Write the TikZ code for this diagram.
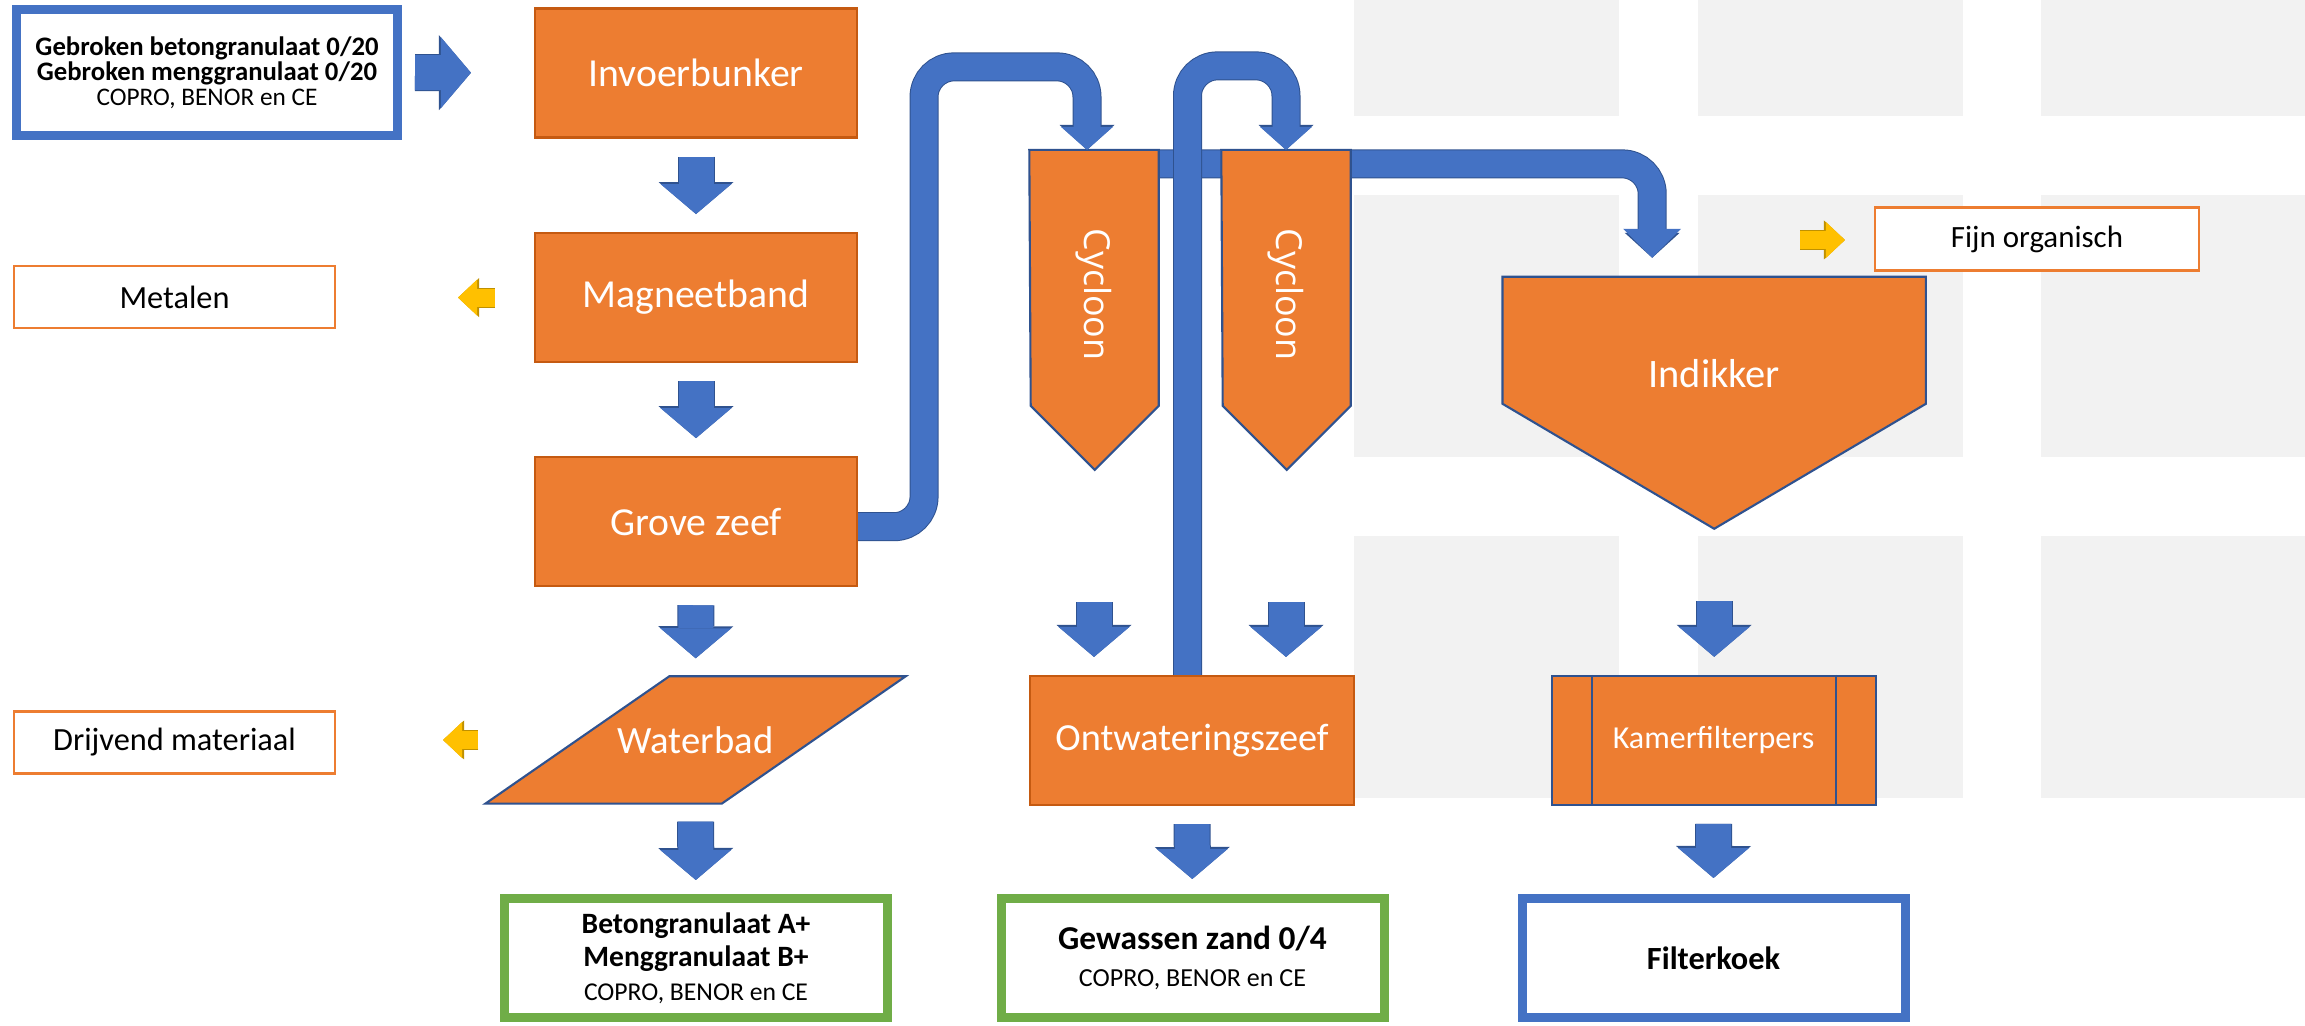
\documentclass[tikz,border=0pt]{standalone}
\usepackage{fontspec}
\setmainfont{Carlito}
\newfontfamily\cycfont{Open Sans}
\usetikzlibrary{arrows.meta, positioning, calc, backgrounds}

\definecolor{procorange}{HTML}{ED7D31}
\definecolor{procedge}{HTML}{C55A11}
\definecolor{flowblue}{HTML}{4472C4}
\definecolor{flowedge}{HTML}{2F528F}
\definecolor{prodgreen}{HTML}{70AD47}
\definecolor{sideyellow}{HTML}{FFC000}
\definecolor{sideedge}{HTML}{BF9000}
\definecolor{gridgray}{HTML}{F2F2F2}

\begin{document}
\begin{tikzpicture}[
    every node/.style={inner sep=0pt},
    proc/.style={draw=procedge,line width=0.6pt,fill=procorange,text=white,
      minimum width=3.22cm,minimum height=1.29cm,font=\fontsize{11.3}{13}\selectfont},
    tank/.style={draw=flowedge,line width=0.6pt,fill=procorange},
    lbl/.style={text=white,font=\fontsize{11}{13}\selectfont},
    rest/.style={draw=procorange,line width=0.6pt,fill=white,
      minimum width=3.21cm,minimum height=0.62cm,font=\fontsize{9.2}{11}\selectfont},
    product/.style={draw=prodgreen,line width=0.09cm,fill=white,align=center,
      minimum width=3.83cm,minimum height=1.19cm},
    flow/.style={draw=flowblue,line width=0.35cm,
      -{Triangle[width=0.71cm,length=0.30cm,line width=0pt]},
      preaction={draw=flowedge,line width=0.37cm,
        -{Triangle[width=0.75cm,length=0.32cm,line width=0pt]}},
      shorten <=0.18cm,shorten >=0.18cm},
    pipe/.style={draw=flowblue,line width=0.27cm,rounded corners=0.3cm,
      -{Triangle[width=0.52cm,length=0.23cm,line width=0pt]},
      preaction={draw=flowedge,line width=0.29cm,
        -{Triangle[width=0.55cm,length=0.25cm,line width=0pt]}}},
    side/.style={draw=sideyellow,line width=0.18cm,
      -{Triangle[width=0.36cm,length=0.19cm,line width=0pt]},
      preaction={draw=sideedge,line width=0.20cm,
        -{Triangle[width=0.39cm,length=0.21cm,line width=0pt]}}}]
  \useasboundingbox (0,0) rectangle (23.05,-10.26);

  % grey grid in the back
  \begin{scope}[on background layer]
    \foreach \gx/\gw in {13.54/2.65, 16.98/2.65, 20.41/2.64}
      \foreach \gy/\gh in {0/1.165, 1.95/2.62, 5.36/2.62}
        \fill[gridgray] (\gx,-\gy) rectangle ++(\gw,-\gh);
  \end{scope}

  % input and first line
  \node[draw=flowblue,line width=0.09cm,fill=white,align=center,
    minimum width=3.81cm,minimum height=1.26cm,font=\fontsize{7.6}{7.1}\selectfont]
    (input) at (2.07,-0.725)
    {\textbf{Gebroken betongranulaat 0/20}\\\textbf{Gebroken menggranulaat 0/20}\\
     {\fontsize{7.2}{7.1}\selectfont COPRO, BENOR en CE}};
  \node[proc] (bunker) at (6.96,-0.73) {Invoerbunker};
  \node[proc, below=0.935cm of bunker] (magneet) {Magneetband};
  \node[proc, below=0.93cm of magneet] (grove) {Grove zeef};
  \node[lbl, minimum width=2.35cm, minimum height=1.26cm] (wbad) at (6.955,-7.40) {Waterbad};
  \node[rest] (metal) at (1.745,-2.97) {Metalen};
  \node[rest] (drijf) at (1.745,-7.425) {Drijvend materiaal};
  \node[product, font=\fontsize{8.4}{9.5}\selectfont] (beton) at (6.96,-9.58)
    {\textbf{Betongranulaat A+}\\\textbf{Menggranulaat B+}\\
     {\fontsize{7.3}{9.5}\selectfont COPRO, BENOR en CE}};

  % cyclones, thickener and presses
  \node[lbl, minimum width=1.28cm, minimum height=2.88cm, font=\cycfont\fontsize{10.2}{12}\selectfont]
    (cyc1) at (10.94,-2.946) {\rotatebox{-90}{Cycloon}};
  \node[lbl, minimum width=1.28cm, minimum height=2.88cm, font=\cycfont\fontsize{10.2}{12}\selectfont]
    (cyc2) at (12.86,-2.946) {\rotatebox{-90}{Cycloon}};
  \node[lbl, minimum width=4.22cm, minimum height=1.93cm, font=\fontsize{11.5}{13}\selectfont]
    (ind) at (17.142,-3.74) {Indikker};
  \node[rest, minimum width=3.24cm, minimum height=0.63cm, font=\fontsize{8.8}{11}\selectfont]
    (fijn) at (20.37,-2.39) {Fijn organisch};
  \node[proc, minimum width=3.24cm, font=\fontsize{10.9}{13}\selectfont] (ontw) at (11.92,-7.405) {Ontwateringszeef};
  \node[proc, draw=flowedge, minimum width=3.24cm, font=\fontsize{9.1}{11}\selectfont]
    (press) at (17.136,-7.404) {Kamerfilterpers};
  \draw[flowedge, line width=0.6pt] ([xshift=0.41cm]press.north west) -- ([xshift=0.41cm]press.south west)
    ([xshift=-0.41cm]press.north east) -- ([xshift=-0.41cm]press.south east);
  \node[product, font=\fontsize{9.5}{10.5}\selectfont] (zand) at (11.925,-9.58)
    {\textbf{Gewassen zand 0/4}\\{\fontsize{7.4}{10.5}\selectfont COPRO, BENOR en CE}};
  \node[product, draw=flowblue, font=\fontsize{9.2}{11}\selectfont] (koek) at (17.135,-9.58)
    {\textbf{Filterkoek}};

  \begin{scope}[on background layer]
    \draw[pipe, -{Triangle[width=0.58cm,length=0.29cm,line width=0pt]}]
      ([yshift=-0.14cm]cyc1.north) -| ([xshift=-0.62cm,yshift=0.19cm]ind.north);
    \foreach \cy in {cyc1,cyc2}
      \filldraw[tank] (\cy.north west) -- (\cy.north east) -- ++(0,-2.56)
        -- ++(-0.64,-0.64) -- ++(-0.64,0.64) -- cycle;
    \filldraw[tank] (ind.north west) -- (ind.north east) -- ++(0,-1.27)
      -- ($(ind.north)+(0,-2.52)$) -- ($(ind.north west)+(0,-1.27)$) -- cycle;
    \filldraw[tank] ([xshift=-0.92cm]wbad.south west) -- ([xshift=-0.92cm]wbad.south east)
      -- ([xshift=0.92cm]wbad.north east) -- ([xshift=0.92cm]wbad.north west) -- cycle;
  \end{scope}

  % block arrows
  \draw[flow, shorten <=0.13cm, shorten >=0.63cm] (input) -- (bunker);
  \draw[flow] (bunker) -- (magneet);
  \draw[flow] (magneet) -- (grove);
  \draw[flow] (grove) -- (wbad);
  \draw[flow, shorten >=0.14cm] (wbad) -- (beton);
  \draw[flow, shorten <=1.63cm] (cyc1.south) -- (cyc1.south |- ontw.north);
  \draw[flow, shorten <=1.63cm] (cyc2.south) -- (cyc2.south |- ontw.north);
  \draw[flow, shorten <=1.30cm] (ind.south) -- (ind.south |- press.north);
  \draw[flow, shorten >=0.15cm] (ontw) -- (zand);
  \draw[flow, shorten >=0.16cm] (press) -- (koek);

  % side streams
  \draw[side, shorten <=0.39cm, shorten >=1.22cm] (magneet.west) -- (magneet.west -| metal.east);
  \draw[side, shorten <=0.99cm, shorten >=1.07cm] (wbad.west) -- (wbad.west -| drijf.east);
  \coordinate (overflow) at (18.00,-2.40);
  \draw[side, shorten >=0.29cm] (overflow) -- (overflow -| fijn.west);

  % pipes to the cyclones
  \draw[pipe] ([yshift=-0.05cm]grove.east) -- ++(0.66,0)
    |- ([xshift=-0.07cm,yshift=0.83cm]cyc1.north) -- ([xshift=-0.07cm]cyc1.north);
  \draw[pipe] ([xshift=-0.045cm]ontw.north) |- ([yshift=0.84cm]cyc2.north) -- (cyc2.north);
\end{tikzpicture}
\end{document}
